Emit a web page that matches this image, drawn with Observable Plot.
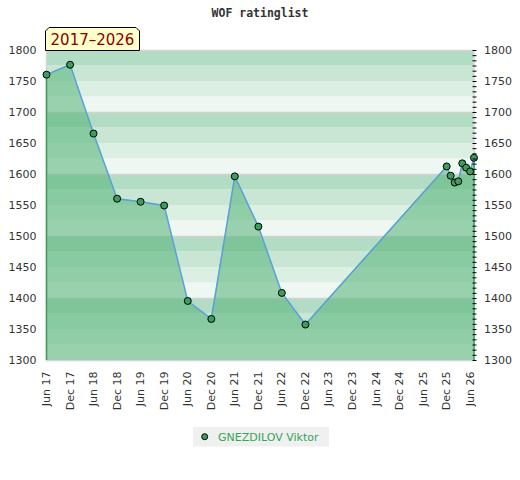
<!DOCTYPE html>
<html><head><meta charset="utf-8">
<script src="https://cdn.jsdelivr.net/npm/d3@7"></script>
<script src="https://cdn.jsdelivr.net/npm/@observablehq/plot@0.6"></script>
<style>
body{margin:0;background:#fff;}
#wrap{position:relative;width:520px;height:480px;overflow:hidden;}
#overlay{position:absolute;left:0;top:0;pointer-events:none;}
</style>
</head><body>
<div id="wrap"><div id="chart"></div>
<svg id="overlay" width="520" height="480">
  <text x="260" y="16.5" text-anchor="middle" font-family="DejaVu Sans Mono" font-weight="bold" font-size="11.5" fill="#333">WOF ratinglist</text>
  <polygon points="45.5,50.5 45.5,31 49,27.5 136,27.5 139.5,31 139.5,50.5" fill="#ffffcc" stroke="#000" stroke-width="1"/>
  <text x="92.5" y="45" text-anchor="middle" font-family="DejaVu Sans" font-size="15" fill="#8b0000">2017–2026</text>
  <rect x="193" y="427" width="136" height="19.5" fill="#f0f0f0"/>
  <circle cx="204.7" cy="436.7" r="3" fill="#3a9e5c" stroke="#000" stroke-width="1"/>
  <text x="218" y="440.8" font-family="DejaVu Sans" font-size="11" fill="#33a556">GNEZDILOV Viktor</text>
</svg>
</div>
<script>
const dates = ["2017-06-01","2017-12-01","2018-06-01","2018-12-01","2019-06-01","2019-12-01","2020-06-01","2020-12-01","2021-06-01","2021-12-01","2022-06-01","2022-12-01","2025-12-01","2026-01-01","2026-02-01","2026-03-01","2026-04-01","2026-05-01","2026-06-01","2026-07-01"];
const ratings = [1761,1777,1666,1561,1556,1550,1396,1367,1597,1516,1409,1358,1613,1598,1587,1589,1618,1611,1605,1627];
const xTicks = ["2017-06-01","2017-12-01","2018-06-01","2018-12-01","2019-06-01","2019-12-01","2020-06-01","2020-12-01","2021-06-01","2021-12-01","2022-06-01","2022-12-01","2023-06-01","2023-12-01","2024-06-01","2024-12-01","2025-06-01","2025-12-01","2026-06-01"];
const yTicks = [1300,1350,1400,1450,1500,1550,1600,1650,1700,1750,1800];
const hundredLines = [1400,1500,1600,1700];

const data = dates.map((d,i) => ({date: new Date(d), rating: ratings[i]}));
const x0 = data[0].date, x1 = data[data.length-1].date;
const bands = d3.range(1300, 1800, 25);
const bandColors = ["#eef7f1","#dbefe2","#c8e6d3","#b2dcc3"];
const minor = d3.range(0, 61).map(k => 1300 + k*500/60);

const chart = Plot.plot({
  width: 520, height: 480,
  marginLeft: 46, marginRight: 46.5, marginTop: 50, marginBottom: 120,
  style: {fontFamily: "DejaVu Sans", fontSize: "11px", color: "#333", background: "transparent"},
  x: {type: "utc", domain: [x0, x1]},
  y: {domain: [1300, 1800]},
  marks: [
    Plot.rect(bands, {x1: () => x0, x2: () => x1, y1: d => d, y2: d => d + 25, fill: d => bandColors[((d - 1300) / 25) % 4]}),
    Plot.ruleY(hundredLines, {stroke: "#d2d2d2", strokeWidth: 1.5}),
    Plot.frame({stroke: "#d4d4d4", strokeWidth: 1.5}),
    Plot.areaY(data, {x: "date", y1: 1300, y2: "rating", fill: "#54b278", fillOpacity: 0.55}),
    Plot.ruleX([data[0], data[data.length-1]], {x: "date", y1: 1300, y2: "rating", stroke: "#3c9c5b", strokeWidth: 1.5}),
    Plot.line(data, {x: "date", y: "rating", stroke: "#5aa0d8", strokeWidth: 1.5}),
    Plot.dot(data, {x: "date", y: "rating", r: 3.5, fill: "#3a9e5c", stroke: "#000", strokeWidth: 1}),
    Plot.axisY({anchor: "left", ticks: yTicks, tickFormat: d => String(d), label: null, tickSize: 0, tickPadding: 10, fill: "#333"}),
    Plot.axisY({anchor: "right", ticks: yTicks, tickFormat: d => String(d), label: null, tickSize: 0, tickPadding: 10, fill: "#333"}),
    Plot.axisY({anchor: "right", ticks: minor, tickSize: 4, dx: -2, tickFormat: () => "", label: null, stroke: "#000"}),
    Plot.axisX({ticks: xTicks.map(d => new Date(d)), tickFormat: d3.utcFormat("%b %y"), label: null, tickRotate: -90, tickSize: 0, tickPadding: 11, fill: "#333"})
  ]
});
document.getElementById("chart").appendChild(chart);
</script>
</body></html>
